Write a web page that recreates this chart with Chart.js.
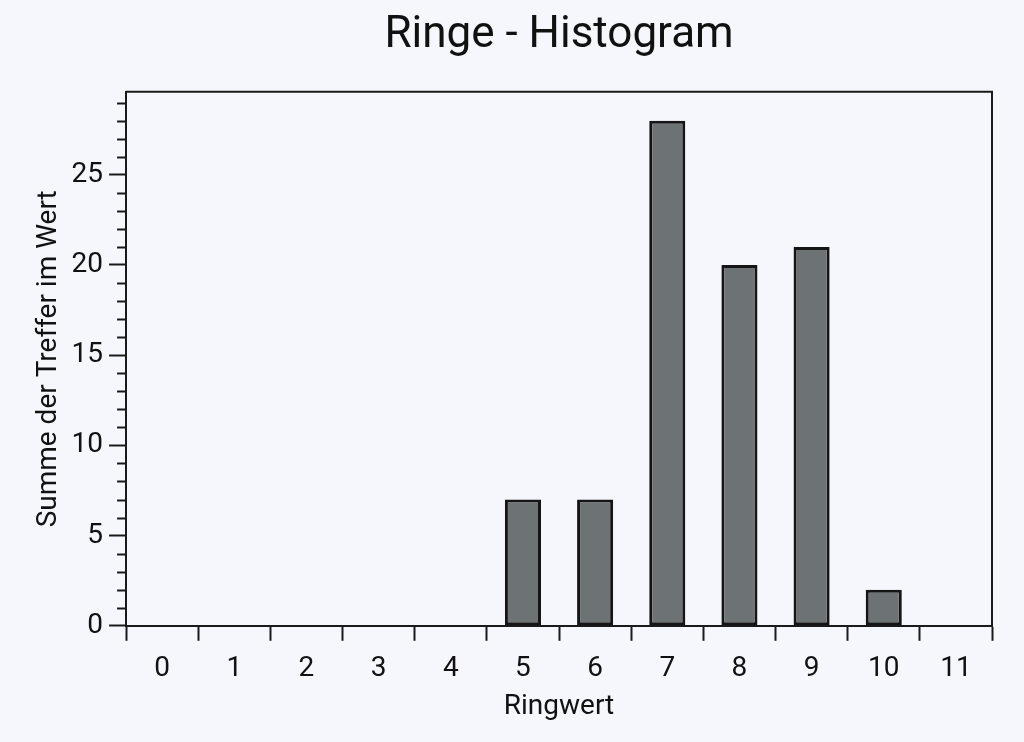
<!DOCTYPE html>
<html>
<head>
<meta charset="utf-8">
<script src="https://cdn.jsdelivr.net/npm/chart.js@4/dist/chart.umd.min.js"></script>
<style>
  html, body { margin: 0; padding: 0; background: #f6f7fc; }
  #wrap { width: 1024px; height: 742px; }
</style>
</head>
<body>
<div id="wrap"><canvas id="chart"></canvas></div>
<script>
const ringwerte = ["0", "1", "2", "3", "4", "5", "6", "7", "8", "9", "10", "11"]
const treffer = [0, 0, 0, 0, 0, 7, 7, 28, 20, 21, 2, 0]
const yMajorTicks = [0, 5, 10, 15, 20, 25]
const yMax = 29.6

// Rahmen + kleine Ticks auf der y-Achse
const framePlugin = {
  id: "frame",
  afterDraw(chart) {
    const { ctx, chartArea } = chart
    const y = chart.scales.y
    ctx.save()
    ctx.strokeStyle = "#1a1a1a"
    ctx.lineWidth = 2
    ctx.beginPath()
    ctx.moveTo(chartArea.left, chartArea.top)
    ctx.lineTo(chartArea.right, chartArea.top)
    ctx.lineTo(chartArea.right, chartArea.bottom)
    ctx.stroke()
    ctx.beginPath()
    for (let v = 1; v < yMax; v++) {
      if (v % 5 === 0) continue
      const py = Math.round(y.getPixelForValue(v)) + 0.5
      ctx.moveTo(chartArea.left - 9, py)
      ctx.lineTo(chartArea.left, py)
    }
    ctx.stroke()
    ctx.restore()
  },
}

new Chart(document.getElementById("chart").getContext("2d"), {
  type: "bar",
  data: {
    labels: ringwerte,
    datasets: [
      {
        label: "Treffer",
        data: treffer,
        backgroundColor: "#6d7275",
        borderColor: "#151515",
        borderWidth: 3,
        borderSkipped: false,
        barPercentage: 0.5,
        categoryPercentage: 1,
        xAxisID: "x",
      },
    ],
  },
  options: {
    responsive: true,
    maintainAspectRatio: false,
    animation: false,
    layout: { padding: { left: 32, right: 32, top: 4, bottom: 18 } },
    plugins: {
      legend: { display: false },
      tooltip: { enabled: false },
      title: { display: false },
    },
    scales: {
      // Titel über der Zeichenfläche zentriert
      top: {
        type: "category",
        position: "top",
        labels: ringwerte,
        offset: true,
        grid: { display: false },
        border: { display: false },
        ticks: { display: false },
        title: {
          display: true,
          text: "Ringe - Histogram",
          color: "#111",
          font: { family: "Roboto", size: 44, weight: "normal" },
          padding: { top: 6, bottom: 21 },
        },
      },
      x: {
        offset: true,
        grid: {
          offset: true,
          drawOnChartArea: false,
          tickLength: 15,
          tickWidth: 2,
          tickColor: "#1a1a1a",
        },
        border: { color: "#1a1a1a", width: 2 },
        ticks: {
          color: "#111",
          font: { family: "Roboto", size: 28 },
          padding: 11,
          maxRotation: 0,
        },
        title: {
          display: true,
          text: "Ringwert",
          color: "#111",
          font: { family: "Roboto", size: 28 },
          padding: { top: -6, bottom: 0 },
        },
      },
      y: {
        min: 0,
        max: yMax,
        afterBuildTicks: (axis) => {
          axis.ticks = yMajorTicks.map((v) => ({ value: v }))
        },
        grid: {
          drawOnChartArea: false,
          tickLength: 17,
          tickWidth: 2,
          tickColor: "#1a1a1a",
        },
        border: { color: "#1a1a1a", width: 2 },
        ticks: {
          color: "#111",
          font: { family: "Roboto", size: 28 },
          padding: 6,
        },
        title: {
          display: true,
          text: "Summe der Treffer im Wert",
          color: "#111",
          font: { family: "Roboto", size: 28 },
          padding: { top: 0, bottom: 0 },
        },
      },
    },
  },
  plugins: [framePlugin],
})
</script>
</body>
</html>
